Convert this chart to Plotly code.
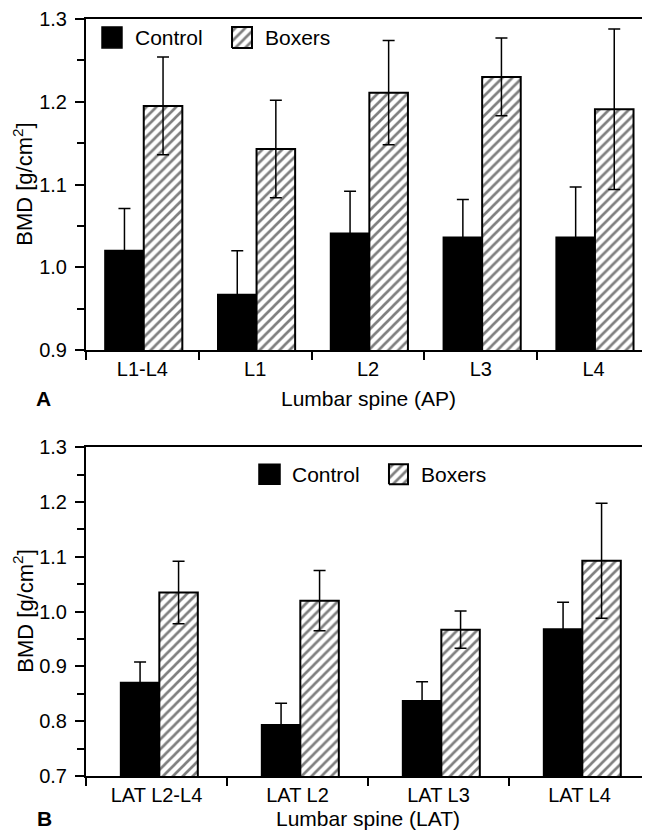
import plotly.graph_objects as go

# ---------------- data ----------------
series_names = ["Control", "Boxers"]

ap_categories = ["L1-L4", "L1", "L2", "L3", "L4"]
ap_control = [1.020, 0.967, 1.041, 1.036, 1.036]
ap_control_sd = [0.051, 0.053, 0.051, 0.046, 0.061]
ap_boxers = [1.195, 1.143, 1.211, 1.230, 1.191]
ap_boxers_sd = [0.059, 0.059, 0.063, 0.047, 0.097]
ap_yticks = [0.9, 1.0, 1.1, 1.2, 1.3]

lat_categories = ["LAT L2-L4", "LAT L2", "LAT L3", "LAT L4"]
lat_control = [0.870, 0.793, 0.837, 0.968]
lat_control_sd = [0.038, 0.040, 0.035, 0.049]
lat_boxers = [1.035, 1.020, 0.967, 1.093]
lat_boxers_sd = [0.057, 0.055, 0.034, 0.105]
lat_yticks = [0.7, 0.8, 0.9, 1.0, 1.1, 1.2, 1.3]

panel_labels = ["A", "B"]
x_titles = ["Lumbar spine (AP)", "Lumbar spine (LAT)"]
y_title = "BMD [g/cm<sup>2</sup>]"

# ---------------- style ----------------
FONT = "Liberation Sans, Arial, Helvetica, sans-serif"
hatch = dict(shape="/", fgcolor="black", bgcolor="white", size=7, solidity=0.38)
err_style = dict(type="data", symmetric=True, color="black", thickness=1.5, width=6)

fig = go.Figure()

def add_panel(cats, ctrl, ctrl_sd, box, box_sd, xa, ya, w, shift):
    fig.add_trace(go.Bar(
        x=cats, y=ctrl, name=series_names[0], xaxis=xa, yaxis=ya,
        width=w, offset=-w + shift,
        marker=dict(color="black", line=dict(color="black", width=2)),
        error_y=dict(array=ctrl_sd, **err_style), showlegend=False,
    ))
    fig.add_trace(go.Bar(
        x=cats, y=box, name=series_names[1], xaxis=xa, yaxis=ya,
        width=w, offset=shift,
        marker=dict(color="white", line=dict(color="black", width=2), pattern=hatch),
        error_y=dict(array=box_sd, **err_style), showlegend=False,
    ))

add_panel(ap_categories, ap_control, ap_control_sd, ap_boxers, ap_boxers_sd, "x", "y", 0.342, 0.012)
add_panel(lat_categories, lat_control, lat_control_sd, lat_boxers, lat_boxers_sd, "x2", "y2", 0.273, 0.02)

# ---------------- custom legends (glyphs in paper space) ----------------
legend_specs = [
    dict(c=(0.0284, 0.0638), b=(0.2589, 0.2943), y=(0.9618, 0.9895), ct=0.0833, bt=0.3138, ty=0.9757),
    dict(c=(0.3067, 0.3440), b=(0.5372, 0.5709), y=(0.3855, 0.4118), ct=0.3617, bt=0.5904, ty=0.3987),
]
shapes = []
annotations = []
for spec in legend_specs:
    y0, y1 = spec["y"]
    cx0, cx1 = spec["c"]
    bx0, bx1 = spec["b"]
    shapes.append(dict(type="rect", xref="paper", yref="paper", x0=cx0, x1=cx1, y0=y0, y1=y1,
                       fillcolor="black", line=dict(color="black", width=1.5)))
    fig.add_trace(go.Scatter(
        x=[bx0, bx1, bx1, bx0, bx0], y=[y0, y0, y1, y1, y0], xaxis="x3", yaxis="y3",
        mode="lines", fill="toself", fillcolor="white", fillpattern=hatch,
        line=dict(color="black", width=2), showlegend=False, hoverinfo="skip",
    ))
    annotations.append(dict(text=series_names[0], xref="paper", yref="paper", x=spec["ct"], y=spec["ty"],
                            xanchor="left", yanchor="middle", showarrow=False, font=dict(size=21)))
    annotations.append(dict(text=series_names[1], xref="paper", yref="paper", x=spec["bt"], y=spec["ty"],
                            xanchor="left", yanchor="middle", showarrow=False, font=dict(size=21)))

# titles and panel letters
title_pos = [(0.4987, 0.781), (-0.0566, 0.217)]
letter_pos = [(-0.0762, 0.4987), (-0.0727, -0.0566)]
for i in range(2):
    annotations.append(dict(text=x_titles[i], xref="paper", yref="paper", x=0.5, y=title_pos[i][0],
                            xanchor="center", yanchor="middle", showarrow=False, font=dict(size=21)))
    annotations.append(dict(text="<b>%s</b>" % panel_labels[i], xref="paper", yref="paper",
                            x=letter_pos[i][0], y=letter_pos[i][1], xanchor="center", yanchor="middle",
                            showarrow=False, font=dict(size=21)))
    annotations.append(dict(text=y_title, xref="paper", yref="paper", x=-0.1117, y=title_pos[i][1],
                            xanchor="center", yanchor="middle", textangle=-90, showarrow=False,
                            font=dict(size=22)))

xcommon = dict(type="category", showline=True, linecolor="black", linewidth=2, mirror=True,
               ticks="outside", tickson="boundaries", ticklen=8, tickwidth=1.5, tickcolor="black",
               showgrid=False, zeroline=False, tickfont=dict(size=20), fixedrange=True)
ycommon = dict(showline=True, linecolor="black", linewidth=2, mirror=False,
               ticks="outside", ticklen=9, tickwidth=1.5, tickcolor="black", tickformat=".1f",
               showgrid=False, zeroline=False, tickfont=dict(size=20), ticklabelstandoff=4,
               minor=dict(dtick=0.05, ticks="outside", ticklen=7, tickwidth=1.5, tickcolor="black"),
               fixedrange=True)

# The page body adds an 8px offset, so the figure is sized/margined to compensate.
fig.update_layout(
    width=642, height=825,
    margin=dict(l=78, r=0, t=8, b=57),
    paper_bgcolor="white", plot_bgcolor="rgba(0,0,0,0)",
    font=dict(family=FONT, color="black", size=20),
    barmode="overlay",
    xaxis=dict(domain=[0, 1], anchor="y", **xcommon),
    yaxis=dict(domain=[0.5625, 1], anchor="x", range=[0.9, 1.3], tickvals=ap_yticks, **ycommon),
    xaxis2=dict(domain=[0, 1], anchor="y2", **xcommon),
    yaxis2=dict(domain=[0, 0.4342], anchor="x2", range=[0.7, 1.3], tickvals=lat_yticks, **ycommon),
    xaxis3=dict(domain=[0, 1], anchor="y3", range=[0, 1], visible=False, fixedrange=True),
    yaxis3=dict(domain=[0, 1], anchor="x3", range=[0, 1], visible=False, fixedrange=True),
    shapes=shapes,
    annotations=annotations,
    showlegend=False,
)

fig.write_html("out.html")
